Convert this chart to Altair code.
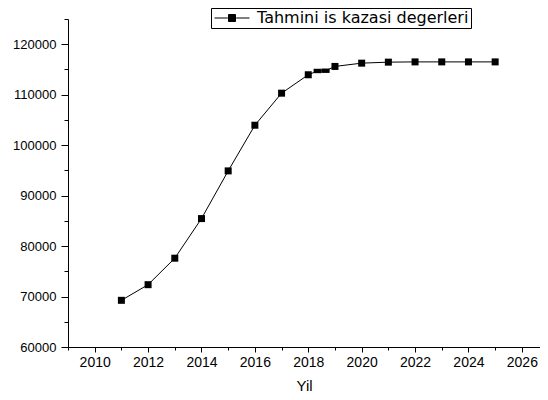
import altair as alt
import pandas as pd

# ---- data ----
series_name = "Tahmini is kazasi degerleri"
years = [2011, 2012, 2013, 2014, 2015, 2016, 2017, 2018, 2019, 2020, 2021, 2022, 2023, 2024, 2025]
values = [69250, 72350, 77600, 85450, 94900, 103950, 110300, 113950, 115600, 116250,
          116450, 116500, 116500, 116500, 116500]
mid_years = [2018.35, 2018.65]
mid_values = [114700, 114750]

x_major = [2010, 2012, 2014, 2016, 2018, 2020, 2022, 2024, 2026]
x_minor = [2009, 2011, 2013, 2015, 2017, 2019, 2021, 2023, 2025]
y_major = [60000, 70000, 80000, 90000, 100000, 110000, 120000]
y_minor = [65000, 75000, 85000, 95000, 105000, 115000, 125000]

main_df = pd.DataFrame({"year": years, "value": values, "series": series_name})
mid_df = pd.DataFrame({"year": mid_years, "value": mid_values, "series": series_name})
line_df = pd.concat([main_df, mid_df]).sort_values("year")

FONT = "Liberation Sans"
xscale = alt.Scale(domain=[2009, 2026.68], nice=False, zero=False)
yscale = alt.Scale(domain=[60000, 125000], nice=False, zero=False)

line = alt.Chart(line_df).mark_line(color="black", strokeWidth=1).encode(
    x=alt.X("year:Q", scale=xscale,
            axis=alt.Axis(values=x_major, format="d", tickSize=5, labelFontSize=14,
                          labelPadding=3, title="Yil", titleFontSize=15,
                          titleFontWeight="normal", titleBaseline="alphabetic",
                          titleY=43, grid=False, orient="bottom")),
    y=alt.Y("value:Q", scale=yscale,
            axis=alt.Axis(values=y_major, format="d", tickSize=7, labelFontSize=13,
                          labelPadding=5, title=None, grid=False, orient="left")),
    order="year:Q",
)

points = alt.Chart(main_df).mark_point(shape="square", filled=True, size=49, opacity=1).encode(
    x=alt.X("year:Q", scale=xscale,
            axis=alt.Axis(values=x_minor, tickSize=3, labels=False, domain=False,
                          title=None, grid=False, orient="bottom")),
    y=alt.Y("value:Q", scale=yscale,
            axis=alt.Axis(values=y_minor, tickSize=4, labels=False, domain=False,
                          title=None, grid=False, orient="left")),
    color=alt.Color("series:N", scale=alt.Scale(range=["black"]),
                    legend=alt.Legend(title=None, orient="none", legendX=143, legendY=-11,
                                      symbolType="M-5,0H-1.2M1.2,0H5M-1,-1H1V1H-1Z",
                                      symbolSize=49, symbolStrokeColor="black",
                                      symbolFillColor="black", symbolStrokeWidth=1,
                                      symbolOpacity=1, symbolOffset=11, labelOffset=17,
                                      labelFontSize=16, labelFont="DejaVu Sans",
                                      labelColor="black", labelLimit=400,
                                      padding=2, strokeColor="black", fillColor="white")),
)

mid_points = alt.Chart(mid_df).mark_point(shape="M-1,-0.55H1V0.55H-1Z", filled=True,
                                          size=64, color="black", opacity=1).encode(
    x=alt.X("year:Q", scale=xscale, axis=None),
    y=alt.Y("value:Q", scale=yscale, axis=None),
)

chart = alt.layer(line, points, mid_points).resolve_axis(
    x="independent", y="independent"
).properties(
    width=472, height=328,
    autosize=alt.AutoSizeParams(type="none"),
    padding={"left": 60, "top": 11, "right": 0, "bottom": 49},
).configure_view(stroke=None).configure_axis(
    domainColor="black", tickColor="black", labelColor="black", titleColor="black",
    labelFont=FONT, titleFont=FONT, domainWidth=1, tickWidth=1,
)

chart.save("out.html", embed_options={"renderer": "svg", "actions": False})
